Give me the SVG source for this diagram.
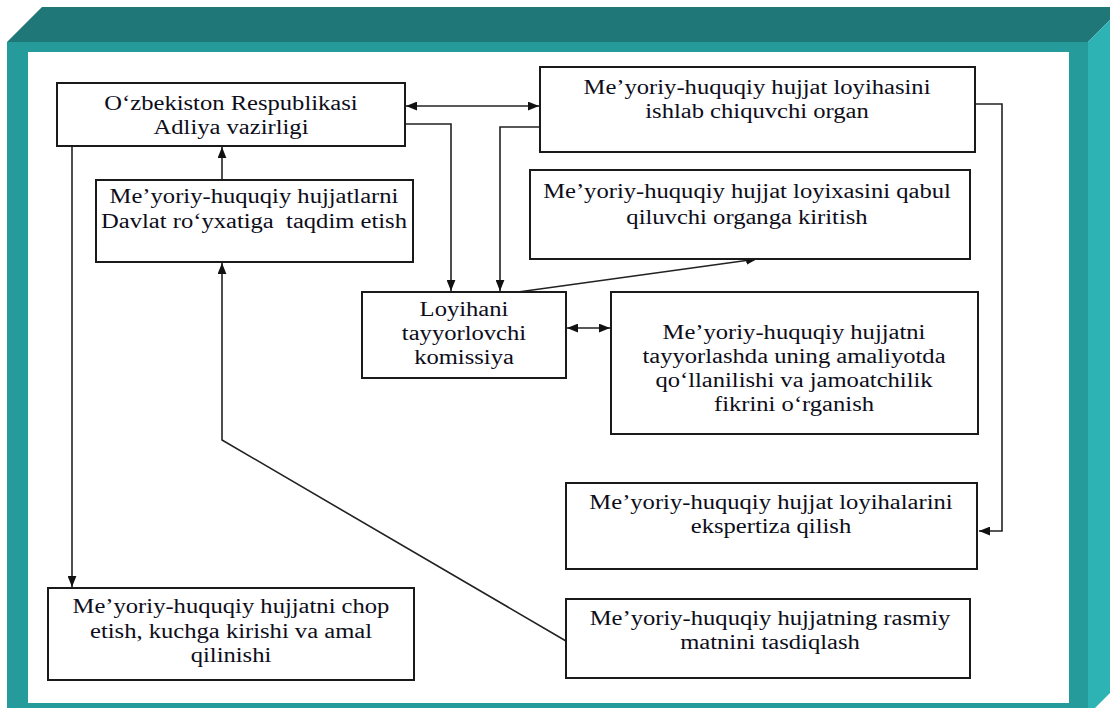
<svg xmlns="http://www.w3.org/2000/svg" width="1110" height="708" viewBox="0 0 1110 708">
  <style>
    .box { fill: #ffffff; stroke: #1a1a1a; stroke-width: 2; }
    .lbl { font-family: "Liberation Serif", "Times New Roman", serif; font-size: 20px; fill: #0d0d1a; text-anchor: middle; white-space: pre; }
    .wire { fill: none; stroke: #222222; stroke-width: 1.6; }
  </style>
  <defs>
    <marker id="arrow" viewBox="0 0 10 8" refX="10" refY="4" markerWidth="11" markerHeight="9" markerUnits="userSpaceOnUse" orient="auto-start-reverse">
      <path d="M0,0 L10,4 L0,8 z" fill="#111111"/>
    </marker>
  </defs>

  <!-- teal frame -->
  <g id="frame">
    <rect x="7" y="42" width="1081" height="666" fill="#269b9b"/>
    <polygon points="7,42 42,7 1110,7 1110,20 1088,42" fill="#1f7777"/>
    <polygon points="1088,42 1110,20 1110,693 1095,708 1088,708" fill="#2db3b3"/>
    <rect x="28" y="52" width="1041" height="651" fill="#ffffff"/>
  </g>

  <!-- connectors -->
  <g id="connectors">
    <line class="wire" x1="406" y1="106" x2="539" y2="106" marker-start="url(#arrow)" marker-end="url(#arrow)"/>
    <polyline class="wire" points="405,124 451,124 451,291" marker-end="url(#arrow)"/>
    <polyline class="wire" points="540,127 500,127 500,291" marker-end="url(#arrow)"/>
    <line class="wire" x1="518" y1="292" x2="757" y2="259" marker-end="url(#arrow)"/>
    <line class="wire" x1="567" y1="328" x2="610" y2="328" marker-start="url(#arrow)" marker-end="url(#arrow)"/>
    <polyline class="wire" points="976,104 1002,104 1002,531 979,531" marker-end="url(#arrow)"/>
    <line class="wire" x1="72" y1="146" x2="72" y2="587" marker-end="url(#arrow)"/>
    <line class="wire" x1="222" y1="180" x2="222" y2="147" marker-end="url(#arrow)"/>
    <polyline class="wire" points="566,641 222,440 222,263" marker-end="url(#arrow)"/>
  </g>

  <!-- text is set at 20px and widened to the wide face of the labels -->
  <g id="adliya">
    <rect class="box" x="57" y="83" width="348" height="63"/>
    <text class="lbl" transform="translate(231,110) scale(1.23,1)">O‘zbekiston Respublikasi</text>
    <text class="lbl" transform="translate(231,134) scale(1.23,1)">Adliya vazirligi</text>
  </g>

  <g id="ishlab-chiquvchi">
    <rect class="box" x="540" y="67" width="435" height="85"/>
    <text class="lbl" transform="translate(757,94) scale(1.23,1)">Me’yoriy-huquqiy hujjat loyihasini</text>
    <text class="lbl" transform="translate(757,118) scale(1.23,1)">ishlab chiquvchi organ</text>
  </g>

  <g id="davlat-royxati">
    <rect class="box" x="96" y="180" width="317" height="82"/>
    <text class="lbl" transform="translate(254,203) scale(1.23,1)">Me’yoriy-huquqiy hujjatlarni</text>
    <text class="lbl" transform="translate(254,228) scale(1.23,1)" xml:space="preserve">Davlat ro‘yxatiga  taqdim etish</text>
  </g>

  <g id="qabul-qiluvchi">
    <rect class="box" x="530" y="170" width="440" height="89"/>
    <text class="lbl" transform="translate(747,198) scale(1.23,1)">Me’yoriy-huquqiy hujjat loyixasini qabul</text>
    <text class="lbl" transform="translate(747,224) scale(1.23,1)">qiluvchi organga kiritish</text>
  </g>

  <g id="komissiya">
    <rect class="box" x="362" y="292" width="204" height="86"/>
    <text class="lbl" transform="translate(464,316) scale(1.23,1)">Loyihani</text>
    <text class="lbl" transform="translate(464,340) scale(1.23,1)">tayyorlovchi</text>
    <text class="lbl" transform="translate(464,364) scale(1.23,1)">komissiya</text>
  </g>

  <g id="jamoatchilik">
    <rect class="box" x="611" y="292" width="367" height="142"/>
    <text class="lbl" transform="translate(794,339) scale(1.23,1)">Me’yoriy-huquqiy hujjatni</text>
    <text class="lbl" transform="translate(794,363) scale(1.23,1)">tayyorlashda uning amaliyotda</text>
    <text class="lbl" transform="translate(794,387) scale(1.23,1)">qo‘llanilishi va jamoatchilik</text>
    <text class="lbl" transform="translate(794,411) scale(1.23,1)">fikrini o‘rganish</text>
  </g>

  <g id="ekspertiza">
    <rect class="box" x="566" y="483" width="411" height="86"/>
    <text class="lbl" transform="translate(771,509) scale(1.23,1)">Me’yoriy-huquqiy hujjat loyihalarini</text>
    <text class="lbl" transform="translate(771,533) scale(1.23,1)">ekspertiza qilish</text>
  </g>

  <g id="chop-etish">
    <rect class="box" x="48" y="588" width="366" height="92"/>
    <text class="lbl" transform="translate(231,613) scale(1.23,1)">Me’yoriy-huquqiy hujjatni chop</text>
    <text class="lbl" transform="translate(231,638) scale(1.23,1)">etish, kuchga kirishi va amal</text>
    <text class="lbl" transform="translate(231,662) scale(1.23,1)">qilinishi</text>
  </g>

  <g id="rasmiy-matn">
    <rect class="box" x="566" y="599" width="404" height="79"/>
    <text class="lbl" transform="translate(770,625) scale(1.23,1)">Me’yoriy-huquqiy hujjatning rasmiy</text>
    <text class="lbl" transform="translate(770,649) scale(1.23,1)">matnini tasdiqlash</text>
  </g>
</svg>
